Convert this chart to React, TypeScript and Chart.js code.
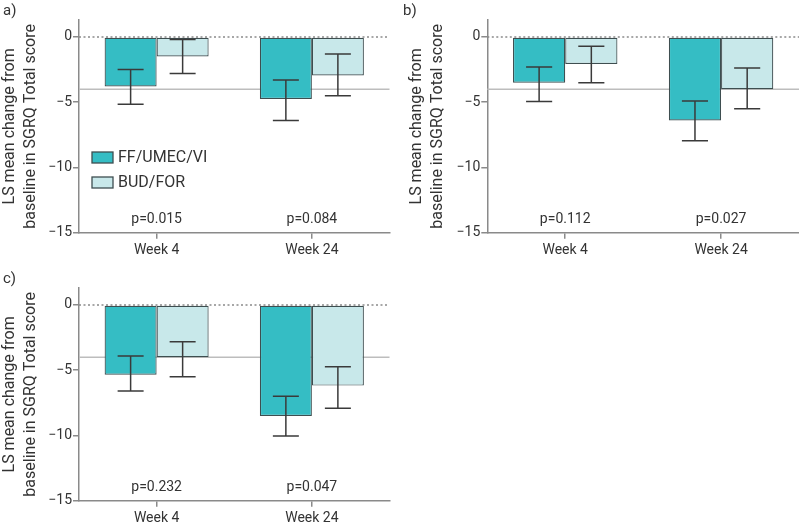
import React, { useEffect, useRef } from "react";
import { Chart, registerables } from "chart.js";

Chart.register(...registerables);

// ---------- data ----------
const categories = ["Week 4", "Week 24"];
const seriesNames = ["FF/UMEC/VI", "BUD/FOR"];
const yTickValues = [0, -5, -10, -15];
const yMin = -15;
const yMax = 1.3;
const mcidValue = -4;
const pLabelValue = -14;
const axisTitle = ["LS mean change from", "baseline in SGRQ Total score"];

// panel a
const aFF = [-3.8, -4.75];
const aFFLow = [-5.15, -6.4];
const aFFHigh = [-2.5, -3.3];
const aBUD = [-1.5, -2.95];
const aBUDLow = [-2.8, -4.5];
const aBUDHigh = [-0.2, -1.3];
const aP = ["p=0.015", "p=0.084"];

// panel b
const bFF = [-3.5, -6.4];
const bFFLow = [-4.95, -7.95];
const bFFHigh = [-2.3, -4.9];
const bBUD = [-2.07, -4.0];
const bBUDLow = [-3.5, -5.5];
const bBUDHigh = [-0.72, -2.38];
const bP = ["p=0.112", "p=0.027"];

// panel c
const cFF = [-5.35, -8.5];
const cFFLow = [-6.6, -10.05];
const cFFHigh = [-3.92, -7.0];
const cBUD = [-4.0, -6.18];
const cBUDLow = [-5.5, -7.92];
const cBUDHigh = [-2.82, -4.74];
const cP = ["p=0.232", "p=0.047"];

// ---------- styles ----------
const FONT = "Roboto, 'Noto Sans', sans-serif";
const TEXT = "#333333";
const AXIS = "#8a8a8a";
const FF_COLOR = "#35bdc4";
const BUD_COLOR = "#c8e8ea";
const BAR_BORDER = "#3e4e50";
const ERR = "#3a3a3a";

type Panel = {
  letter: string;
  ff: number[]; ffLow: number[]; ffHigh: number[];
  bud: number[]; budLow: number[]; budHigh: number[];
  p: string[];
  legend: boolean;
  left: number; top: number; width: number; height: number;
  axisWidth: number; titlePad: number; padRight: number;
};

const panels: Panel[] = [
  { letter: "a)", ff: aFF, ffLow: aFFLow, ffHigh: aFFHigh, bud: aBUD, budLow: aBUDLow, budHigh: aBUDHigh, p: aP, legend: true,
    left: 0, top: 0, width: 400, height: 268, axisWidth: 79, titlePad: 0, padRight: 10.5 },
  { letter: "b)", ff: bFF, ffLow: bFFLow, ffHigh: bFFHigh, bud: bBUD, budLow: bBUDLow, budHigh: bBUDHigh, p: bP, legend: false,
    left: 400, top: 0, width: 399, height: 268, axisWidth: 87.3, titlePad: 6.5, padRight: 0 },
  { letter: "c)", ff: cFF, ffLow: cFFLow, ffHigh: cFFHigh, bud: cBUD, budLow: cBUDLow, budHigh: cBUDHigh, p: cP, legend: false,
    left: 0, top: 268.3, width: 400, height: 268, axisWidth: 79, titlePad: 0, padRight: 10.5 },
];

function makeOverlay(panel: Panel) {
  return {
    id: "overlay",
    beforeDatasetsDraw(chart: any) {
      const { ctx, chartArea, scales } = chart;
      const y = scales.y;
      ctx.save();
      // MCID reference line
      ctx.strokeStyle = "#bdbdbd";
      ctx.lineWidth = 1.5;
      const ym = y.getPixelForValue(mcidValue);
      ctx.beginPath();
      ctx.moveTo(chartArea.left, ym);
      ctx.lineTo(chartArea.right, ym);
      ctx.stroke();
      // zero dotted line
      ctx.strokeStyle = "#8a8a8a";
      ctx.setLineDash([2, 2.5]);
      const y0 = y.getPixelForValue(0);
      ctx.beginPath();
      ctx.moveTo(chartArea.left, y0);
      ctx.lineTo(chartArea.right, y0);
      ctx.stroke();
      ctx.restore();
    },
    afterDatasetsDraw(chart: any) {
      const { ctx, chartArea, scales } = chart;
      const y = scales.y;
      const x = scales.x;
      ctx.save();
      // error bars
      const lows = [panel.ffLow, panel.budLow];
      const highs = [panel.ffHigh, panel.budHigh];
      ctx.strokeStyle = ERR;
      ctx.lineWidth = 1.5;
      for (let d = 0; d < 2; d++) {
        const meta = chart.getDatasetMeta(d);
        meta.data.forEach((bar: any, j: number) => {
          const cx = bar.x;
          const half = bar.width / 4;
          const yl = y.getPixelForValue(lows[d][j]);
          const yh = y.getPixelForValue(highs[d][j]);
          ctx.beginPath();
          ctx.moveTo(cx, yl);
          ctx.lineTo(cx, yh);
          ctx.moveTo(cx - half, yl);
          ctx.lineTo(cx + half, yl);
          ctx.moveTo(cx - half, yh);
          ctx.lineTo(cx + half, yh);
          ctx.stroke();
        });
      }
      // p-values
      ctx.fillStyle = TEXT;
      ctx.font = `14px ${FONT}`;
      ctx.textAlign = "center";
      ctx.textBaseline = "middle";
      panel.p.forEach((t, j) => {
        ctx.fillText(t, x.getPixelForValue(j), y.getPixelForValue(pLabelValue));
      });
      // legend
      if (panel.legend) {
        const colors = [FF_COLOR, BUD_COLOR];
        ctx.font = `16px ${FONT}`;
        ctx.textAlign = "left";
        seriesNames.forEach((name, i) => {
          const sx = chartArea.left + 13;
          const sy = chartArea.top + 132 + i * 25;
          ctx.fillStyle = colors[i];
          ctx.fillRect(sx, sy, 21, 11);
          ctx.strokeStyle = BAR_BORDER;
          ctx.lineWidth = 1.3;
          ctx.strokeRect(sx, sy, 21, 11);
          ctx.fillStyle = TEXT;
          ctx.fillText(name, chartArea.left + 39, sy + 6);
        });
      }
      // panel letter
      ctx.fillStyle = TEXT;
      ctx.font = `15px ${FONT}`;
      ctx.textAlign = "left";
      ctx.textBaseline = "middle";
      ctx.fillText(panel.letter, 3, 11);
      ctx.restore();
    },
  };
}

function PanelChart({ panel }: { panel: Panel }) {
  const ref = useRef<HTMLCanvasElement | null>(null);
  useEffect(() => {
    if (!ref.current) return;
    const common = {
      borderColor: BAR_BORDER,
      borderWidth: 1.2,
      borderSkipped: false,
      inflateAmount: 0,
      categoryPercentage: 0.67,
      barPercentage: 1.0,
    };
    const chart = new Chart(ref.current, {
      type: "bar",
      data: {
        labels: categories,
        datasets: [
          { label: seriesNames[0], data: panel.ff, backgroundColor: FF_COLOR, ...common },
          { label: seriesNames[1], data: panel.bud, backgroundColor: BUD_COLOR, ...common },
        ],
      },
      options: {
        animation: false,
        responsive: false,
        maintainAspectRatio: false,
        devicePixelRatio: 1,
        layout: { padding: { left: 0, right: panel.padRight, top: 20, bottom: 5.3 } },
        plugins: { legend: { display: false }, tooltip: { enabled: false }, title: { display: false } },
        scales: {
          x: {
            type: "category",
            grid: { display: true, drawOnChartArea: false, drawTicks: true, tickLength: 6, color: AXIS, lineWidth: 1.5, offset: false },
            border: { display: true, color: AXIS, width: 1.5 },
            ticks: { color: TEXT, font: { family: FONT, size: 14 }, padding: 3, maxRotation: 0 },
            afterFit: (s: any) => { s.height = 30; },
          },
          y: {
            type: "linear",
            min: yMin,
            max: yMax,
            grid: { display: true, drawOnChartArea: false, drawTicks: true, tickLength: 6, color: AXIS, lineWidth: 1.5 },
            border: { display: true, color: AXIS, width: 1.5 },
            ticks: {
              color: TEXT,
              font: { family: FONT, size: 14 },
              padding: 1,
              callback: (v: any) => (Number(v) === 0 ? "0" : "\u2212" + Math.abs(Number(v))),
            },
            afterBuildTicks: (s: any) => { s.ticks = yTickValues.map((v) => ({ value: v })); },
            afterFit: (s: any) => { s.width = panel.axisWidth; },
            title: {
              display: true,
              text: axisTitle,
              color: TEXT,
              font: { family: FONT, size: 16, lineHeight: 1.3 },
              padding: { top: panel.titlePad, bottom: 0 },
            },
          },
        },
      },
      plugins: [makeOverlay(panel)],
    });
    return () => chart.destroy();
  }, [panel]);
  return (
    <canvas
      ref={ref}
      width={panel.width}
      height={panel.height}
      style={{ position: "absolute", left: panel.left, top: panel.top, width: panel.width, height: panel.height }}
    />
  );
}

export default function App() {
  return (
    <div style={{ position: "absolute", left: 0, top: 0, width: 799, height: 529, background: "#fff", overflow: "hidden" }}>
      {panels.map((p, i) => (
        <PanelChart key={i} panel={p} />
      ))}
    </div>
  );
}
